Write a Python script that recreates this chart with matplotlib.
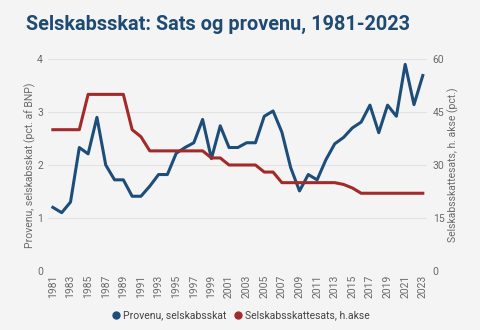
import matplotlib
matplotlib.use("Agg")
import matplotlib.pyplot as plt
from matplotlib.lines import Line2D

plt.rcParams['font.family'] = ['Roboto', 'DejaVu Sans']

# Data
years = list(range(1981, 2024))
provenu = [1.2, 1.1, 1.3, 2.33, 2.21, 2.9, 2.0, 1.72, 1.72, 1.41,
           1.41, 1.6, 1.82, 1.82, 2.22, 2.33, 2.42, 2.86, 2.12, 2.74,
           2.33, 2.33, 2.42, 2.42, 2.92, 3.02, 2.62, 1.95, 1.51, 1.82,
           1.72, 2.1, 2.4, 2.52, 2.7, 2.81, 3.13, 2.61, 3.13, 2.92,
           3.9, 3.14, 3.69]
sats = [40, 40, 40, 40, 50, 50, 50, 50, 50, 40,
        38, 34, 34, 34, 34, 34, 34, 34, 32, 32,
        30, 30, 30, 30, 28, 28, 25, 25, 25, 25,
        25, 25, 25, 24.5, 23.5, 22, 22, 22, 22, 22,
        22, 22, 22]
xtick_years = list(range(1981, 2024, 2))

BG = '#f4f4f4'
BLUE = '#1d4e7a'
RED = '#a32a2a'
GREY = '#6a6a6a'

fig = plt.figure(figsize=(4.8, 3.3), dpi=100, facecolor=BG)
ax = fig.add_axes([0.101, 0.179, 0.789, 0.642], facecolor=BG)
ax2 = ax.twinx()

ax.plot(years, provenu, color=BLUE, lw=2.2, zorder=3)
ax2.plot(years, sats, color=RED, lw=2.2, zorder=2)

ax.set_xlim(1980.5, 2023.5)
ax.set_ylim(0, 4)
ax2.set_ylim(0, 60)
ax.set_yticks([0, 1, 2, 3, 4])
ax2.set_yticks([0, 15, 30, 45, 60])
ax.set_xticks(xtick_years)
ax.set_xticklabels([str(y) for y in xtick_years], rotation=90)

ax.grid(axis='y', color='#e2e2e2', lw=0.8)
ax.set_axisbelow(True)
for a in (ax, ax2):
    for s in a.spines.values():
        s.set_visible(False)
    a.tick_params(length=0, colors=GREY, labelsize=7.5)
ax.tick_params(axis='y', pad=4)
ax2.tick_params(axis='y', pad=4)
ax.tick_params(axis='x', pad=3)

ax.set_ylabel('Provenu, selskabsskat (pct. af BNP)', color=GREY, fontsize=7.5, labelpad=1)
ax2.set_ylabel('Selskabsskattesats, h. akse (pct.)', color=GREY, fontsize=7.5, labelpad=2)

fig.text(0.054, 0.925, 'Selskabsskat: Sats og provenu, 1981-2023', color='#1e4a73',
         fontsize=14.3, fontweight='bold', va='center', ha='left')

handles = [Line2D([], [], ls='none', marker='o', ms=5, color=BLUE),
           Line2D([], [], ls='none', marker='o', ms=5, color=RED)]
fig.legend(handles, ['Provenu, selskabsskat', 'Selskabsskattesats, h.akse'],
           loc='center', bbox_to_anchor=(0.5, 0.045), ncol=2, frameon=False,
           fontsize=7.5, labelcolor='#444444', handletextpad=0.2, columnspacing=0.6,
           handlelength=1.0)

fig.savefig('out.png', dpi=100, facecolor=BG)
